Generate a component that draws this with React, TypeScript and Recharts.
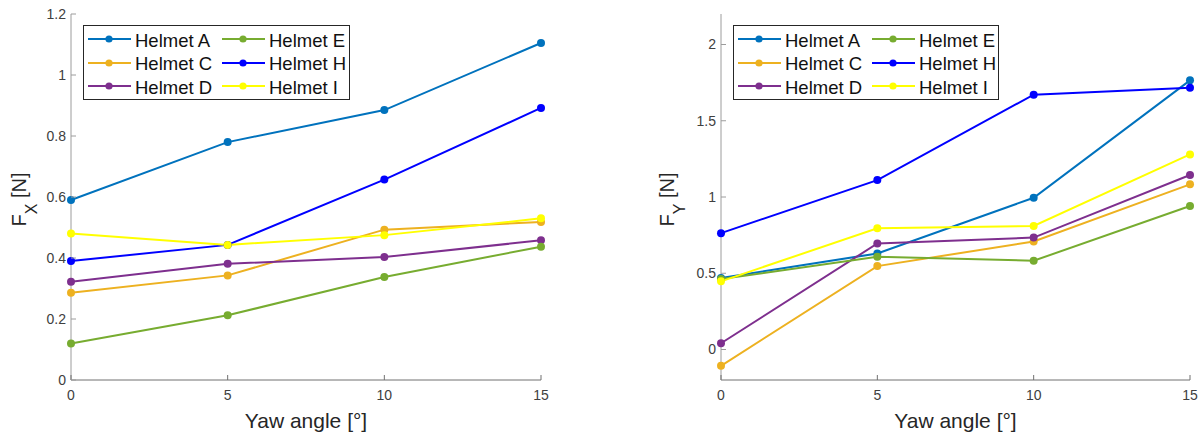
import React from "react";
import { LineChart, Line, XAxis, YAxis, Legend } from "recharts";

// Yaw angles (x positions) shared by both panels
const yawAngles = [0, 5, 10, 15];

// Drag force F_X [N] per helmet
const fxHelmetA = [0.59, 0.78, 0.885, 1.105];
const fxHelmetC = [0.286, 0.343, 0.493, 0.518];
const fxHelmetD = [0.322, 0.381, 0.403, 0.458];
const fxHelmetE = [0.12, 0.212, 0.338, 0.437];
const fxHelmetH = [0.39, 0.443, 0.657, 0.892];
const fxHelmetI = [0.48, 0.443, 0.475, 0.53];

// Side force F_Y [N] per helmet
const fyHelmetA = [0.469, 0.63, 0.995, 1.765];
const fyHelmetC = [-0.107, 0.547, 0.708, 1.083];
const fyHelmetD = [0.041, 0.695, 0.734, 1.144];
const fyHelmetE = [0.462, 0.608, 0.582, 0.941];
const fyHelmetH = [0.763, 1.111, 1.671, 1.717];
const fyHelmetI = [0.447, 0.795, 0.81, 1.279];

const xTicks = [0, 5, 10, 15];
const fxTicks = [0, 0.2, 0.4, 0.6, 0.8, 1, 1.2];
const fyTicks = [0, 0.5, 1, 1.5, 2];

const seriesNames = ["Helmet A", "Helmet C", "Helmet D", "Helmet E", "Helmet H", "Helmet I"];
const seriesKeys = ["A", "C", "D", "E", "H", "I"];
const seriesColors = ["#0072BD", "#EDB120", "#7E2F8E", "#77AC30", "#0000FF", "#FFFF00"];

const FONT = "'Liberation Sans', Arial, Helvetica, sans-serif";
const Y_AXIS_GRAY = "#9c9c9c";
const X_AXIS_GRAY = "#707070";
const TICK_TEXT = "#404040";

function buildRows(cols: number[][]) {
  return yawAngles.map((angle, i) => {
    const row: Record<string, number> = { angle };
    seriesKeys.forEach((k, s) => {
      row[k] = cols[s][i];
    });
    return row;
  });
}

const fxData = buildRows([fxHelmetA, fxHelmetC, fxHelmetD, fxHelmetE, fxHelmetH, fxHelmetI]);
const fyData = buildRows([fyHelmetA, fyHelmetC, fyHelmetD, fyHelmetE, fyHelmetH, fyHelmetI]);

// Inward-pointing tick marks, MATLAB style
const YTick = (props: any) => {
  const { x, y, payload } = props;
  return (
    <g>
      <line x1={x} x2={x + 5} y1={y} y2={y} stroke={Y_AXIS_GRAY} strokeWidth={1} />
      <text x={x - 5} y={y} dy="0.35em" textAnchor="end" fontSize={14} fill={TICK_TEXT} fontFamily={FONT}>
        {String(payload.value)}
      </text>
    </g>
  );
};

const XTick = (props: any) => {
  const { x, y, payload } = props;
  return (
    <g>
      <line x1={x} x2={x} y1={y} y2={y - 5} stroke={X_AXIS_GRAY} strokeWidth={1} />
      <text x={x} y={y + 20} textAnchor="middle" fontSize={14} fill={TICK_TEXT} fontFamily={FONT}>
        {String(payload.value)}
      </text>
    </g>
  );
};

const LegendBox = ({ width }: { width: number }) => (
  <div
    style={{
      position: "relative",
      width,
      height: 75,
      boxSizing: "border-box",
      border: "1px solid #262626",
      background: "#fff",
      fontFamily: FONT,
    }}
  >
    {seriesNames.map((name, i) => {
      const col = Math.floor(i / 3);
      const row = i % 3;
      const color = seriesColors[i];
      return (
        <div
          key={name}
          style={{
            position: "absolute",
            left: 4 + col * 134,
            top: 13 + row * 23.5 - 10,
            height: 20,
            display: "flex",
            alignItems: "center",
            whiteSpace: "nowrap",
          }}
        >
          <svg width={44} height={20} style={{ display: "block" }}>
            <line x1={0} x2={43} y1={10} y2={10} stroke={color} strokeWidth={2} />
            <circle cx={21} cy={10} r={3.6} fill={color} />
          </svg>
          <span style={{ marginLeft: 3, fontSize: 18.5, color: "#111", lineHeight: "20px", position: "relative", top: 1.5 }}>
            {name}
          </span>
        </div>
      );
    })}
  </div>
);

type PanelProps = {
  left: number;
  width: number;
  yAxisWidth: number;
  rightMargin: number;
  data: Record<string, number>[];
  domain: [number, number];
  ticks: number[];
  sub: string;
  labelX: number;
  legendLeft: number;
  legendWidth: number;
};

const Panel = ({ left, width, yAxisWidth, rightMargin, data, domain, ticks, sub, labelX, legendLeft, legendWidth }: PanelProps) => {
  const height = 436;
  const top = 14;
  const xAxisHeight = 56;
  const plotCenterY = top + (height - top - xAxisHeight) / 2 + 2.5;
  return (
    <div style={{ position: "absolute", left, top: 0 }}>
      <LineChart width={width} height={height} data={data} margin={{ top, right: rightMargin, bottom: 0, left: 0 }}>
        <XAxis
          type="number"
          dataKey="angle"
          domain={[0, 15]}
          ticks={xTicks}
          interval={0}
          height={xAxisHeight}
          tickSize={0}
          tickMargin={0}
          tickLine={false}
          tick={<XTick />}
          axisLine={{ stroke: X_AXIS_GRAY, strokeWidth: 1 }}
          label={{
            content: (p: any) => {
              const vb = p.viewBox || { x: yAxisWidth, y: height - xAxisHeight, width: width - yAxisWidth - rightMargin };
              return (
                <text
                  x={vb.x + vb.width / 2}
                  y={vb.y + 48}
                  textAnchor="middle"
                  fontSize={21}
                  fill="#262626"
                  fontFamily={FONT}
                >
                  Yaw angle [°]
                </text>
              );
            },
          }}
        />
        <YAxis
          type="number"
          domain={domain}
          ticks={ticks}
          interval={0}
          width={yAxisWidth}
          tickSize={0}
          tickMargin={0}
          tickLine={false}
          tick={<YTick />}
          axisLine={{ stroke: Y_AXIS_GRAY, strokeWidth: 1 }}
          allowDataOverflow
          label={{
            content: () => (
              <text
                transform={`translate(${labelX},${plotCenterY}) rotate(-90)`}
                textAnchor="middle"
                fontSize={20}
                fill="#262626"
                fontFamily={FONT}
              >
                F
                <tspan fontSize={16} dy={11}>
                  {sub}
                </tspan>
                <tspan dy={-11}> [N]</tspan>
              </text>
            ),
          }}
        />
        <Legend
          layout="vertical"
          align="center"
          verticalAlign="middle"
          wrapperStyle={{ left: legendLeft, top: 25, width: legendWidth, height: 75 }}
          content={() => <LegendBox width={legendWidth} />}
        />
        {seriesKeys.map((k, i) => (
          <Line
            key={k}
            type="linear"
            dataKey={k}
            name={seriesNames[i]}
            stroke={seriesColors[i]}
            strokeWidth={2}
            dot={{ r: 4, fill: seriesColors[i], stroke: seriesColors[i], strokeWidth: 0 }}
            activeDot={false}
            isAnimationActive={false}
          />
        ))}
      </LineChart>
    </div>
  );
};

export default function App() {
  return (
    <div style={{ position: "absolute", left: 0, top: 0, width: 1203, height: 436, background: "#fff", fontFamily: FONT }}>
      <Panel
        left={0}
        width={600}
        yAxisWidth={71}
        rightMargin={59}
        data={fxData}
        domain={[0, 1.2]}
        ticks={fxTicks}
        sub="X"
        labelX={25.5}
        legendLeft={83}
        legendWidth={267}
      />
      <Panel
        left={600}
        width={603}
        yAxisWidth={121}
        rightMargin={13}
        data={fyData}
        domain={[-0.2, 2.2]}
        ticks={fyTicks}
        sub="Y"
        labelX={74}
        legendLeft={133}
        legendWidth={266}
      />
    </div>
  );
}
